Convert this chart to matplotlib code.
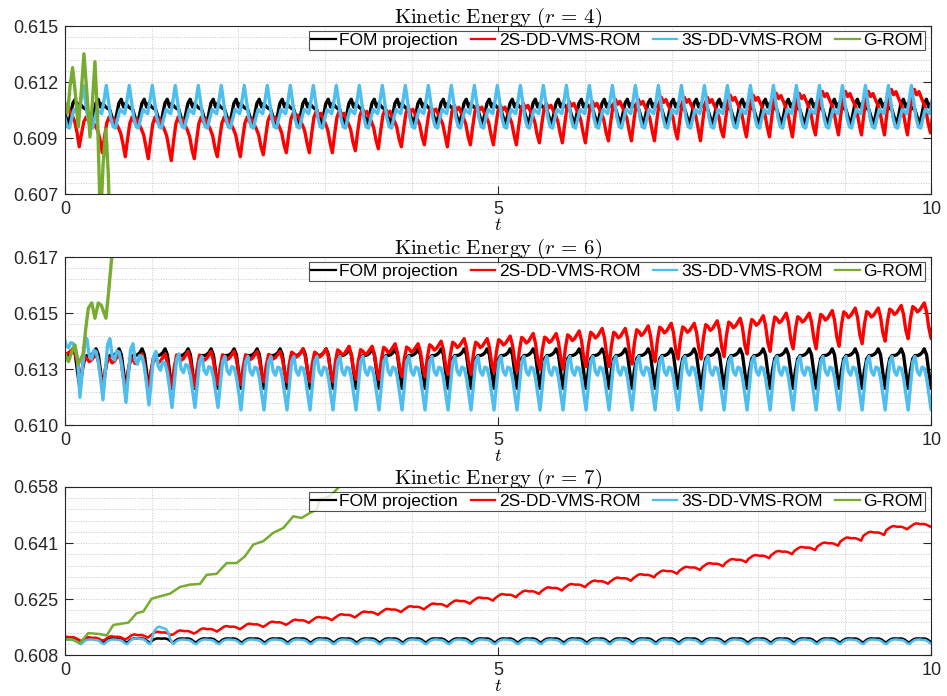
import numpy as np
import matplotlib.pyplot as plt
from matplotlib.ticker import FixedLocator

plt.rcParams['font.family'] = ['Liberation Sans', 'DejaVu Sans']
plt.rcParams['mathtext.fontset'] = 'cm'

# spacing of successive peaks
period = 0.2655

names = ['FOM projection', '2S-DD-VMS-ROM', '3S-DD-VMS-ROM', 'G-ROM']
colors = ['black', '#ff0000', '#4dbeee', '#77ac30']

# ---- r = 4 --------------------------------------------------------------
# each periodic curve: start of first cycle, one cycle of shape (0 = trough
# level, 1 = peak level), trough / peak levels (one value or one per cycle)
r4_fom_t0 = -0.227
r4_fom_shape = [0, 0.4, 0.85, 1.0, 0.7, 0.85, 0.72, 0.65, 0.6, 0.3]
r4_fom_lo, r4_fom_hi = 0.6100, 0.6113

r4_2s_t0 = -0.1005
r4_2s_shape = [0, 0.45, 0.85, 1.0, 0.88, 0.95, 0.82, 0.7, 0.55, 0.25]
r4_2s_lo = [0.6092, 0.6089, 0.6086, 0.6084, 0.6083, 0.6082, 0.6083, 0.6084,
            0.6084, 0.6085, 0.6086, 0.6086, 0.6086, 0.6087, 0.6088, 0.6089,
            0.6090, 0.6089, 0.6090, 0.6090, 0.6090, 0.6091, 0.6091, 0.6091,
            0.6092, 0.6092, 0.6092, 0.6093, 0.6092, 0.6094, 0.6094, 0.6094,
            0.6094, 0.6095, 0.6095, 0.6095, 0.6095, 0.6095, 0.6096]
r4_2s_hi = [0.6110, 0.6104, 0.6104, 0.6104, 0.6104, 0.6104, 0.6104, 0.6104,
            0.6104, 0.6105, 0.6106, 0.6107, 0.6107, 0.6108, 0.6108, 0.6109,
            0.6109, 0.6110, 0.6110, 0.6110, 0.6111, 0.6111, 0.6112, 0.6112,
            0.6113, 0.6113, 0.6114, 0.6114, 0.6114, 0.6115, 0.6115, 0.6116,
            0.6116, 0.6117, 0.6117, 0.6117, 0.6118, 0.6118, 0.6118]

r4_3s_t0 = -0.0545
r4_3s_shape = [1.0, 0.62, 0.25, 0.05, 0.02, 0.25, 0.45, 0.40, 0.35, 0.65]
r4_3s_lo, r4_3s_hi = 0.6098, 0.6120

r4_g_t = [0, 0.03, 0.06, 0.088, 0.12, 0.154, 0.19, 0.219, 0.25, 0.289,
          0.32, 0.346, 0.375, 0.41, 0.44, 0.473, 0.50, 0.53]
r4_g_v = [0.6111, 0.6106, 0.6120, 0.6129, 0.6116, 0.6099, 0.6118, 0.6136,
          0.6118, 0.6094, 0.6114, 0.6132, 0.6105, 0.6050, 0.6080, 0.6098,
          0.6075, 0.6030]

# ---- r = 6 --------------------------------------------------------------
r6_fom_t0 = -0.0925
r6_fom_shape = [0, 0.45, 0.75, 0.83, 0.83, 0.85, 0.9, 1.0, 0.85, 0.4]
r6_fom_lo, r6_fom_hi = 0.61185, 0.6134

r6_2s_t0 = -0.0925
r6_2s_shape = [0, 0.55, 0.9, 0.85, 0.75, 0.8, 0.9, 1.0, 0.75, 0.3]
r6_2s_lo = [0.6126, 0.6120, 0.6118, 0.6117, 0.6118, 0.6119, 0.6119, 0.6120,
            0.6120, 0.6121, 0.6121, 0.6121, 0.6121, 0.6122, 0.6122, 0.6123,
            0.6123, 0.6124, 0.6124, 0.6125, 0.6125, 0.6126, 0.6126, 0.6127,
            0.6127, 0.6128, 0.6129, 0.6130, 0.6130, 0.6131, 0.6132, 0.6133,
            0.6134, 0.6134, 0.6135, 0.6136, 0.6137, 0.6138, 0.6138]
r6_2s_hi = [0.6134, 0.6132, 0.6132, 0.6132, 0.6132, 0.6133, 0.6133, 0.6133,
            0.6133, 0.6133, 0.6134, 0.6134, 0.6135, 0.6135, 0.6136, 0.6136,
            0.6137, 0.6138, 0.6138, 0.6139, 0.6140, 0.6140, 0.6141, 0.6142,
            0.6142, 0.6143, 0.6144, 0.6144, 0.6145, 0.6146, 0.6147, 0.6148,
            0.6148, 0.6149, 0.6150, 0.6150, 0.6151, 0.6152, 0.6152]

r6_3s_t0 = -0.0925
r6_3s_shape = [0, 0.45, 0.9, 1.0, 0.72, 0.65, 0.8, 0.78, 0.6, 0.3]
r6_3s_lo = [0.6126, 0.6115, 0.6114, 0.6113, 0.6112, 0.6111, 0.6111, 0.6111,
            0.6110]
r6_3s_hi = [0.6139, 0.6138, 0.6138, 0.6136, 0.6133, 0.6132, 0.6131, 0.6131,
            0.6131]

r6_g_t = [0, 0.04, 0.08, 0.115, 0.154, 0.21, 0.24, 0.27, 0.31, 0.346,
          0.385, 0.42, 0.473, 0.50, 0.54, 0.58]
r6_g_v = [0.6132, 0.6129, 0.6133, 0.61355, 0.6128, 0.6132, 0.6142, 0.6150,
          0.6152, 0.6146, 0.6152, 0.6151, 0.6146, 0.6155, 0.6170, 0.6190]

# ---- r = 7 --------------------------------------------------------------
r7_t0 = -0.0785
r7_fom_shape = [0, 0.5, 0.85, 1.0, 1.0, 0.95, 1.0, 0.95, 0.7, 0.25]
r7_fom_lo, r7_fom_hi = 0.6118, 0.6130

r7_2s_shape = [0, 0.4, 0.8, 1.0, 0.9, 0.8, 0.85, 0.75, 0.5, 0.2]
r7_2s_lo = [0.6124, 0.6122, 0.6125, 0.6130, 0.6138, 0.6142, 0.6148, 0.6155,
            0.6162, 0.6168, 0.6174, 0.6182, 0.6190, 0.6198, 0.6206, 0.6214,
            0.6222, 0.6231, 0.6240, 0.6250, 0.6260, 0.6270, 0.6280, 0.6290,
            0.6299, 0.6309, 0.6320, 0.6331, 0.6342, 0.6354, 0.6366, 0.6378,
            0.6390, 0.6403, 0.6418, 0.6435, 0.6452, 0.6460, 0.6462]
r7_2s_hi = [v + 0.0012 for v in r7_2s_lo]

r7_3s_shape = [0, 0.45, 0.8, 0.95, 1.0, 0.95, 0.9, 0.85, 0.6, 0.2]
r7_3s_lo = 0.6113
r7_3s_hi = [0.6127, 0.6127, 0.6127, 0.6130, 0.6165, 0.6127, 0.6127, 0.6127,
            0.6127]

r7_g_t = [0, 0.077, 0.173, 0.269, 0.404, 0.481, 0.558, 0.731, 0.827, 0.904,
          1.0, 1.096, 1.212, 1.327, 1.443, 1.558, 1.635, 1.75, 1.866, 1.981,
          2.077, 2.173, 2.289, 2.404, 2.519, 2.635, 2.731, 2.827, 2.904, 2.94,
          3.06, 3.17, 3.25]
r7_g_v = [0.6126, 0.6128, 0.6116, 0.6146, 0.6143, 0.6139, 0.6170, 0.6177,
          0.6205, 0.6210, 0.6248, 0.6255, 0.6263, 0.6283, 0.6290, 0.6292,
          0.6319, 0.6322, 0.6354, 0.6354, 0.6374, 0.6409, 0.6419, 0.6444,
          0.6458, 0.6493, 0.6488, 0.6503, 0.6513, 0.6543, 0.6553, 0.6582,
          0.6600]

ylims = [(0.6065, 0.615), (0.6104, 0.617), (0.608, 0.658)]
ytick_labels = [['0.607', '0.609', '0.612', '0.615'],
                ['0.610', '0.613', '0.615', '0.617'],
                ['0.608', '0.625', '0.641', '0.658']]
titles = [r'$\mathrm{Kinetic\ Energy\ (}r\,=\,4\mathrm{)}$',
          r'$\mathrm{Kinetic\ Energy\ (}r\,=\,6\mathrm{)}$',
          r'$\mathrm{Kinetic\ Energy\ (}r\,=\,7\mathrm{)}$']


def cycles(t0, shape, lo, hi, n=40):
    shape = np.asarray(shape, float)
    lo = np.atleast_1d(np.asarray(lo, float))
    hi = np.atleast_1d(np.asarray(hi, float))
    # pad the per-cycle levels with their last value
    lo = np.concatenate([lo, np.full(max(n - len(lo), 0), lo[-1])])[:n]
    hi = np.concatenate([hi, np.full(max(n - len(hi), 0), hi[-1])])[:n]
    m = len(shape)
    v = (lo[:, None] + (hi - lo)[:, None] * shape[None, :]).ravel()
    t = t0 + period * np.arange(n * m) / m
    return t, v


panels = [
    [cycles(r4_fom_t0, r4_fom_shape, r4_fom_lo, r4_fom_hi),
     cycles(r4_2s_t0, r4_2s_shape, r4_2s_lo, r4_2s_hi),
     cycles(r4_3s_t0, r4_3s_shape, r4_3s_lo, r4_3s_hi),
     (r4_g_t, r4_g_v)],
    [cycles(r6_fom_t0, r6_fom_shape, r6_fom_lo, r6_fom_hi),
     cycles(r6_2s_t0, r6_2s_shape, r6_2s_lo, r6_2s_hi),
     cycles(r6_3s_t0, r6_3s_shape, r6_3s_lo, r6_3s_hi),
     (r6_g_t, r6_g_v)],
    [cycles(r7_t0, r7_fom_shape, r7_fom_lo, r7_fom_hi),
     cycles(r7_t0, r7_2s_shape, r7_2s_lo, r7_2s_hi),
     cycles(r7_t0, r7_3s_shape, r7_3s_lo, r7_3s_hi),
     (r7_g_t, r7_g_v)],
]
widths = [2.4, 2.4, 1.8]

fig = plt.figure(figsize=(9.47, 6.96), dpi=100)
bottoms = [0.7208, 0.3889, 0.0585]
gray = '#262626'

for i, series in enumerate(panels):
    ax = fig.add_axes([0.0686, bottoms[i], 0.915, 0.2418])
    for (t, v), c, name in zip(series, colors, names):
        ax.plot(t, v, color=c, lw=widths[i], label=name)
    lo, hi = ylims[i]
    ax.set_xlim(0, 10)
    ax.set_ylim(lo, hi)
    ax.set_xticks([0, 5, 10])
    ax.set_xticklabels(['0', '5', '10'])
    ax.set_yticks(np.linspace(lo, hi, 4))
    ax.set_yticklabels(ytick_labels[i])
    ax.xaxis.set_minor_locator(FixedLocator(np.arange(0, 11)))
    ax.yaxis.set_minor_locator(FixedLocator(np.linspace(lo, hi, 16)))
    ax.tick_params(which='major', direction='in', length=6, width=0.8,
                   top=True, right=True, labelsize=13, colors=gray,
                   pad=5)
    ax.tick_params(which='minor', length=0)
    ax.grid(which='both', ls=':', lw=0.7, color='#c8c8c8')
    for s in ax.spines.values():
        s.set_color(gray)
        s.set_linewidth(0.8)
    ax.set_xlabel(r'$t$', fontsize=13, labelpad=-1)
    ax.set_title(titles[i], fontsize=15, pad=2)
    leg = ax.legend(loc='upper right', bbox_to_anchor=(0.9925, 0.972),
                    ncol=4, fontsize=12.5, frameon=True, fancybox=False,
                    borderpad=0.12, handlelength=1.4, handletextpad=0.2,
                    columnspacing=0.75, borderaxespad=0)
    leg.get_frame().set_edgecolor(gray)
    leg.get_frame().set_linewidth(0.8)
    for line in leg.get_lines():
        line.set_linewidth(1.6)

fig.savefig('out.png', dpi=100)
